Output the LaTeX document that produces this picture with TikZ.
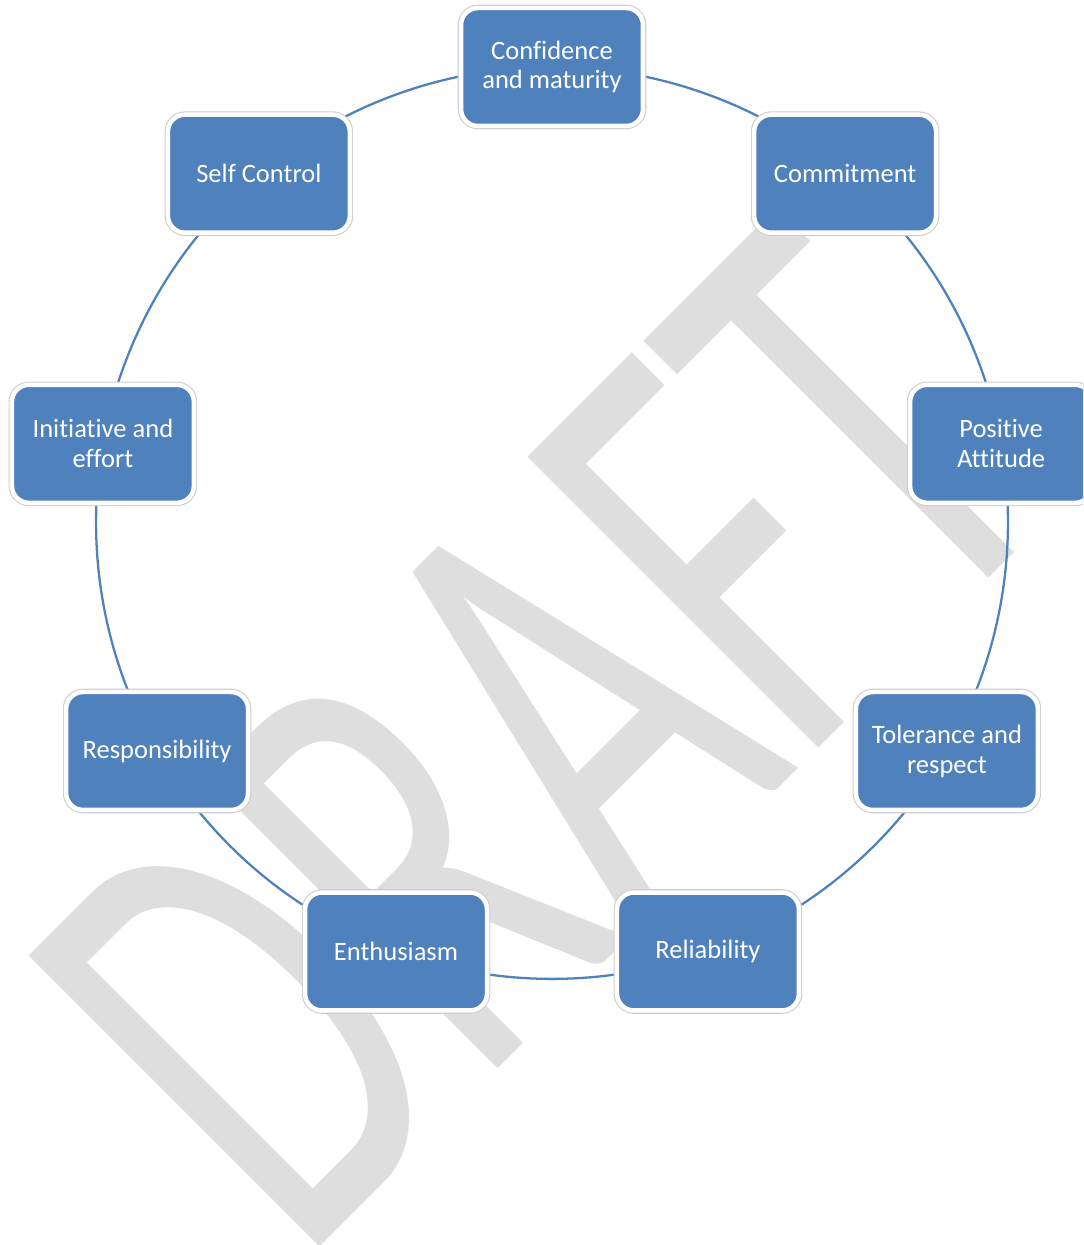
\documentclass[tikz,border=0pt]{standalone}
\usepackage{fontspec}
\setmainfont{Carlito}[Ligatures=NoCommon]
\usepackage{tikz}
\usepackage{xcolor}
\definecolor{boxblue}{RGB}{79,129,189}
\definecolor{wmgray}{RGB}{222,222,222}
\pgfdeclarelayer{wm}
\pgfdeclarelayer{ringlayer}
\pgfsetlayers{wm,ringlayer,main}

\begin{document}
\begin{tikzpicture}[x=0.02cm,y=0.02cm,
  trait/.style={rectangle,rounded corners=0.34cm,fill=boxblue,draw=white,line width=2.55pt,
    preaction={draw=black!20,line width=3.75pt},minimum width=3.64cm,minimum height=2.36cm,
    inner sep=0pt,align=center,text=white,font=\fontsize{15.1}{17}\selectfont},
  ring/.style={draw=boxblue,line width=1.3pt,bend left=20,looseness=0.878}]
\useasboundingbox (0,0) rectangle (1083,1245);
\clip (0,0) rectangle (1083,1245);
% watermark
\begin{pgfonlayer}{wm}
\begin{scope}[shift={(686,364)},rotate=45,xscale=0.634]
\node[transform shape,anchor=base,inner sep=0pt,text=wmgray,font=\fontsize{365}{365}\selectfont] (wm) at (0,0) {DRAFT};
\end{scope}
\end{pgfonlayer}
% the nine boxes on a circle
\node[trait] (conf) at ({552+456*cos(90)},{722+456*sin(90)}) {Confidence\\and maturity};
\node[trait] (commit) at ({552+456*cos(50)},{722+456*sin(50)}) {Commitment};
\node[trait] (posatt) at ({552+456*cos(10)},{722+456*sin(10)}) {Positive\\Attitude};
\node[trait] (toler) at ({552+456*cos(-30)},{722+456*sin(-30)}) {Tolerance and\\respect};
\node[trait] (reliab) at ({552+456*cos(-70)},{722+456*sin(-70)}) {Reliability};
\node[trait] (enthus) at ({552+456*cos(-110)},{722+456*sin(-110)}) {Enthusiasm};
\node[trait] (respons) at ({552+456*cos(-150)},{722+456*sin(-150)}) {Responsibility};
\node[trait] (init) at ({552+456*cos(170)},{722+456*sin(170)}) {Initiative and\\effort};
\node[trait] (selfctl) at ({552+456*cos(130)},{722+456*sin(130)}) {Self Control};
% ring, centre to centre, hidden under the boxes
\begin{pgfonlayer}{ringlayer}
\draw[ring] (conf.center) to (commit.center);
\draw[ring] (commit.center) to (posatt.center);
\draw[ring] (posatt.center) to (toler.center);
\draw[ring] (toler.center) to (reliab.center);
\draw[ring] (reliab.center) to (enthus.center);
\draw[ring] (enthus.center) to (respons.center);
\draw[ring] (respons.center) to (init.center);
\draw[ring] (init.center) to (selfctl.center);
\draw[ring] (selfctl.center) to (conf.center);
\end{pgfonlayer}
\end{tikzpicture}
\end{document}
